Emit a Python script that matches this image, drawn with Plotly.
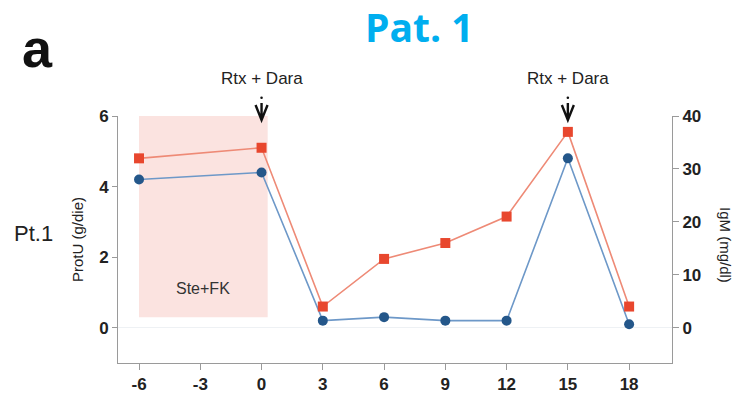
import plotly.graph_objects as go

# Months relative to first Rtx + Dara administration
months = [-6, 0, 3, 6, 9, 12, 15, 18]
prot_u = [4.2, 4.4, 0.2, 0.3, 0.2, 0.2, 4.8, 0.1]      # ProtU (g/die)
igm = [32, 34, 4, 13, 16, 21, 37, 4]                    # IgM (mg/dl)
x_ticks = [-6, -3, 0, 3, 6, 9, 12, 15, 18]
left_ticks = [0, 2, 4, 6]
right_ticks = [0, 10, 20, 30, 40]
treatment_months = [0, 15]
treatment_label = "Rtx + Dara"
ste_fk_span = [-6, 0.3]
ste_fk_level = [0.3, 6]

FONT = "Liberation Sans, Arial, sans-serif"
AXIS_GREY = "#9a9a9a"

fig = go.Figure()

# Steroid + FK506 period
fig.add_shape(type="rect", xref="x", yref="y",
              x0=ste_fk_span[0], x1=ste_fk_span[1],
              y0=ste_fk_level[0], y1=ste_fk_level[1],
              fillcolor="#fbe3e0", line_width=0, layer="below")
fig.add_annotation(x=(ste_fk_span[0] + ste_fk_span[1]) / 2, y=1.1, xref="x", yref="y",
                   text="Ste+FK", showarrow=False, xanchor="center", yanchor="middle",
                   font=dict(family=FONT, size=16, color="#333"))

fig.add_trace(go.Scatter(
    x=months, y=prot_u, mode="lines+markers", yaxis="y",
    line=dict(color="#6d98c8", width=1.6),
    marker=dict(symbol="circle", size=10, color="#24578a"),
    showlegend=False, cliponaxis=False))

fig.add_trace(go.Scatter(
    x=months, y=igm, mode="lines+markers", yaxis="y2",
    line=dict(color="#ee8a76", width=1.6),
    marker=dict(symbol="square", size=10, color="#e8472e"),
    showlegend=False, cliponaxis=False))

# Treatment markers: label, dot and open chevron arrow
for t in treatment_months:
    fig.add_annotation(x=t, y=1.0, xref="x", yref="paper", yshift=38,
                       xanchor="center", yanchor="middle",
                       text=treatment_label, showarrow=False,
                       font=dict(family=FONT, size=17, color="#222"))
    fig.add_shape(type="circle", xref="x", yref="paper",
                  xsizemode="pixel", ysizemode="pixel", xanchor=t, yanchor=1.0,
                  x0=-1.3, x1=1.3, y0=17, y1=19.6,
                  fillcolor="#111", line_width=0)
    fig.add_shape(type="path", xref="x", yref="paper",
                  xsizemode="pixel", ysizemode="pixel", xanchor=t, yanchor=1.0,
                  path="M -6 11 L 0 -4 L 6 11 M 0 13 L 0 -3",
                  line=dict(color="#111", width=2.4))

fig.add_annotation(x=0.0, y=1.0, xref="paper", yref="paper", xshift=-41, yshift=-124,
                   xanchor="center", yanchor="middle",
                   text="ProtU (g/die)", textangle=-90, showarrow=False,
                   font=dict(family=FONT, size=15, color="#222"))
fig.add_annotation(x=1.0, y=1.0, xref="paper", yref="paper", xshift=54, yshift=-129,
                   xanchor="center", yanchor="middle",
                   text="IgM (mg/dl)", textangle=90, showarrow=False,
                   font=dict(family=FONT, size=15, color="#222"))

fig.add_annotation(x=0.0, y=1.0, xref="paper", yref="paper", xshift=-85, yshift=-117,
                   xanchor="center", yanchor="middle",
                   text="Pt.1", showarrow=False,
                   font=dict(family=FONT, size=22, color="#222"))
fig.add_annotation(x=0.0, y=1.0, xref="paper", yref="paper", xshift=-81, yshift=68,
                   xanchor="center", yanchor="middle",
                   text="<b>a</b>", showarrow=False,
                   font=dict(family=FONT, size=54, color="#111"))
fig.add_annotation(x=0.0, y=1.0, xref="paper", yref="paper", xshift=301, yshift=90,
                   xanchor="center", yanchor="middle",
                   text="<b>Pat. 1</b>", showarrow=False,
                   font=dict(family="Open Sans, Liberation Sans, sans-serif", size=39, color="#00aeef"))

tick_font = dict(family=FONT, size=17, color="#222")

fig.update_layout(
    width=738, height=402,
    margin=dict(l=118, r=66, t=116, b=39, autoexpand=False),
    paper_bgcolor="white", plot_bgcolor="white",
    xaxis=dict(range=[-7.03, 20.1], tickvals=x_ticks,
               ticktext=[f"<b>{v}</b>" for v in x_ticks],
               showgrid=False, zeroline=False, showline=True,
               linecolor=AXIS_GREY, linewidth=1, automargin=False,
               ticks="outside", ticklen=6, tickcolor=AXIS_GREY,
               tickfont=tick_font),
    yaxis=dict(range=[-1, 6], tickvals=left_ticks,
               ticktext=[f"<b>{v}</b>" for v in left_ticks],
               showgrid=False, zeroline=True, zerolinecolor="#eef1f4", zerolinewidth=1,
               showline=True, linecolor=AXIS_GREY, linewidth=1, automargin=False,
               ticks="outside", ticklen=5, tickcolor=AXIS_GREY,
               tickfont=tick_font),
    yaxis2=dict(range=[-6.667, 40], tickvals=right_ticks,
                ticktext=[f"<b>{v}</b>" for v in right_ticks],
                overlaying="y", side="right",
                showgrid=False, zeroline=False, automargin=False,
                showline=True, linecolor=AXIS_GREY, linewidth=1,
                ticks="outside", ticklen=6, tickcolor=AXIS_GREY,
                tickfont=tick_font),
)

fig.write_html("out.html")
